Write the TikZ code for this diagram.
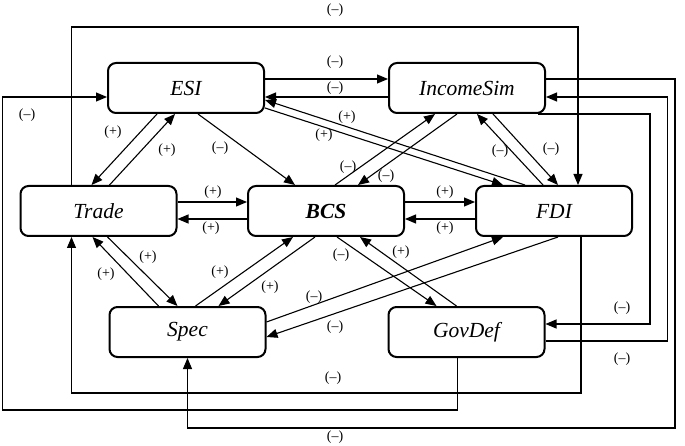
\documentclass[tikz,border=0pt]{standalone}
\usepackage{fontspec}
\setmainfont{Liberation Serif}
\usetikzlibrary{arrows.meta,calc}
\begin{document}
\begin{tikzpicture}[x=1pt,y=-1pt,
  box/.style={draw,line width=2pt,rounded corners=8pt,minimum width=156pt,minimum height=50pt,inner sep=0pt,font=\fontsize{21.5}{24}\selectfont\itshape},
  arr/.style={line width=1.1pt,-{Triangle[length=11pt,width=9pt]}},
  lab/.style={font=\fontsize{14}{15}\selectfont,inner sep=0pt}]
\useasboundingbox (0,0) rectangle (685,446);
% boxes
\node[box] (ESI) at (186,88) {ESI};
\node[box] (INC) at (467,88) {IncomeSim};
\node[box] (TRD) at (98.5,211) {Trade};
\node[box,font=\fontsize{21.5}{24}\selectfont\bfseries\itshape] (BCS) at (326,211) {BCS};
\node[box] (FDI) at (554,211) {FDI};
\node[box] (SPC) at (187.5,332) {Spec};
\node[box] (GOV) at (466.5,332) {GovDef};
% loops
\draw[arr] ($(TRD.north west)+(52,0)$) -- ++(0,-158) -| ($(FDI.north west)+(103,0)$);
\draw[arr] ($(GOV.south west)+(70,0)$) -- ++(0,52) -- ++(-455,0) |- ($(ESI.north west)+(0,35)$);
\draw[arr] ($(INC.north east)+(0,17)$) -- ++(129,0) -- ++(0,349) -| ($(SPC.south west)+(79,0)$);
\draw[arr] ($(FDI.south west)+(106,0)$) -- ++(0,156) -| ($(TRD.south west)+(52,0)$);
\draw[arr] ($(GOV.north east)+(0,35)$) -- ++(122,0) |- ($(INC.north east)+(0,35)$);
\draw[arr] ($(INC.south east)+(-8,0)$) -- ++(112,0) |- ($(GOV.north east)+(0,18)$);
% horizontals
\draw[arr] ($(ESI.north east)+(0,17)$) -- ($(INC.north west)+(0,17)$);
\draw[arr] ($(INC.north west)+(0,35)$) -- ($(ESI.north east)+(0,35)$);
\draw[arr] ($(TRD.north east)+(0,17)$) -- ($(BCS.north west)+(0,17)$);
\draw[arr] ($(BCS.north west)+(0,34)$) -- ($(TRD.north east)+(0,34)$);
\draw[arr] ($(BCS.north east)+(0,17)$) -- ($(FDI.north west)+(0,17)$);
\draw[arr] ($(FDI.north west)+(0,34)$) -- ($(BCS.north east)+(0,34)$);
% upper diagonals
\draw[arr] ($(ESI.south west)+(50,0)$) -- ($(TRD.north west)+(72,0)$);
\draw[arr] ($(TRD.north west)+(90,0)$) -- ($(ESI.south west)+(68,0)$);
\draw[arr] ($(ESI.south west)+(91,0)$) -- ($(BCS.north west)+(48,0)$);
\draw[arr] ($(ESI.north east)+(0,46)$) -- ($(FDI.north west)+(28,0)$);
\draw[arr] ($(FDI.north west)+(50,0)$) -- ($(ESI.north east)+(0,38)$);
\draw[arr] ($(BCS.north west)+(88,0)$) -- ($(INC.south west)+(47,0)$);
\draw[arr] ($(INC.south west)+(69,0)$) -- ($(BCS.north west)+(111,0)$);
\draw[arr] ($(FDI.north west)+(68,0)$) -- ($(INC.south west)+(89,0)$);
\draw[arr] ($(INC.south west)+(105,0)$) -- ($(FDI.north west)+(83,0)$);
% lower diagonals
\draw[arr] ($(SPC.north west)+(50,0)$) -- ($(TRD.south west)+(73,0)$);
\draw[arr] ($(TRD.south west)+(88,0)$) -- ($(SPC.north west)+(69,0)$);
\draw[arr] ($(SPC.north west)+(87,0)$) -- ($(BCS.south west)+(46,0)$);
\draw[arr] ($(BCS.south west)+(68,0)$) -- ($(SPC.north west)+(110,0)$);
\draw[arr] ($(BCS.south west)+(90,0)$) -- ($(GOV.north west)+(49,0)$);
\draw[arr] ($(GOV.north west)+(69,0)$) -- ($(BCS.south west)+(113,0)$);
\draw[arr] ($(SPC.north east)+(0,16)$) -- ($(FDI.south west)+(28,0)$);
\draw[arr] ($(FDI.south west)+(83,0)$) -- ($(SPC.north east)+(0,31)$);
% labels
\node[lab] (l1) at (335,10) {(–)};
\node[lab] (l2) at (335,62) {(–)};
\node[lab] (l3) at (335,88) {(–)};
\node[lab] (l4) at (27,115) {(–)};
\node[lab] (l5) at (113,132) {(+)};
\node[lab] (l6) at (167,150) {(+)};
\node[lab] (l7) at (220,148) {(–)};
\node[lab] (l8) at (347,117) {(+)};
\node[lab] (l9) at (324,135) {(+)};
\node[lab] (l10) at (348,167) {(–)};
\node[lab] (l11) at (386,176) {(–)};
\node[lab] (l12) at (500,151) {(–)};
\node[lab] (l13) at (551,149) {(–)};
\node[lab] (l14) at (213,192) {(+)};
\node[lab] (l15) at (211,228) {(+)};
\node[lab] (l16) at (445,192) {(+)};
\node[lab] (l17) at (445,228) {(+)};
\node[lab] (l18) at (106,274) {(+)};
\node[lab] (l19) at (148,257) {(+)};
\node[lab] (l20) at (220,272) {(+)};
\node[lab] (l21) at (270,287) {(+)};
\node[lab] (l22) at (341,255) {(–)};
\node[lab] (l23) at (401,252) {(+)};
\node[lab] (l24) at (314,297) {(–)};
\node[lab] (l25) at (335,327) {(–)};
\node[lab] (l26) at (622,308) {(–)};
\node[lab] (l27) at (622,359) {(–)};
\node[lab] (l28) at (333,378) {(–)};
\node[lab] (l29) at (335,437) {(–)};
\end{tikzpicture}
\end{document}
